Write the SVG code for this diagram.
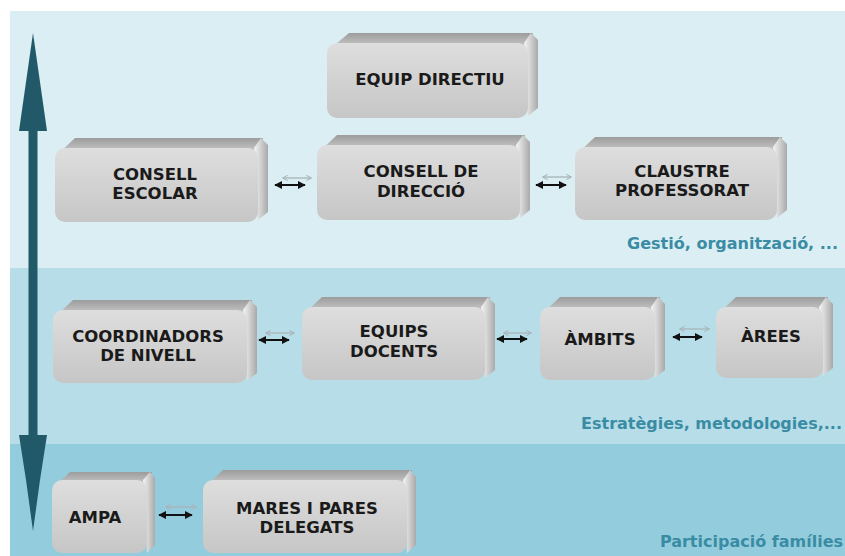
<svg xmlns="http://www.w3.org/2000/svg" width="845" height="556" viewBox="0 0 845 556">
<style>
.lbl{font-family:"DejaVu Sans",Verdana,sans-serif;font-weight:bold;font-size:16.5px;fill:#1a1a1a;text-anchor:middle}
.band{font-family:"DejaVu Sans",Verdana,sans-serif;font-weight:bold;font-size:16px;fill:#3a8ca4;text-anchor:end}
.front{fill:url(#gFront)}
.top{fill:url(#gTop)}
.side{fill:url(#gSide)}
.blk{stroke:#111;stroke-width:2;fill:none;marker-start:url(#aB);marker-end:url(#aB)}
.gry{stroke:#a8b4b8;stroke-width:1.3;fill:none;marker-start:url(#aG);marker-end:url(#aG)}
</style>
<defs>
<linearGradient id="gFront" x1="0" y1="0" x2="0" y2="1"><stop offset="0" stop-color="#dedede"/><stop offset="1" stop-color="#c6c6c6"/></linearGradient>
<linearGradient id="gTop" x1="0" y1="0" x2="0" y2="1"><stop offset="0" stop-color="#9c9c9c"/><stop offset="1" stop-color="#cfcfcf"/></linearGradient>
<linearGradient id="gSide" x1="0" y1="0" x2="1" y2="0"><stop offset="0" stop-color="#f4f4f4"/><stop offset="1" stop-color="#a9a9a9"/></linearGradient>
<marker id="aB" viewBox="0 0 10 10" refX="9" refY="5" markerWidth="4" markerHeight="4" orient="auto-start-reverse"><path d="M0,0 L10,5 L0,10 z" fill="#111"/></marker>
<marker id="aG" viewBox="0 0 10 10" refX="9" refY="5" markerWidth="4" markerHeight="4" orient="auto-start-reverse"><path d="M0,0 L10,5 L0,10" fill="none" stroke="#a8b4b8" stroke-width="2"/></marker>
</defs>
<rect width="845" height="556" fill="#ffffff"/>
<rect x="10" y="11" width="835" height="257" fill="#dbeef3"/>
<rect x="10" y="268" width="835" height="176" fill="#b7dee8"/>
<rect x="10" y="444" width="835" height="112" fill="#93cddd"/>
<text class="band" x="838" y="249">Gestió, organització, ...</text>
<text class="band" x="842" y="429">Estratègies, metodologies,...</text>
<text class="band" x="843" y="547">Participació famílies</text>
<g id="vertical-arrow">
<rect x="28.5" y="128" width="9" height="310" fill="#215968"/>
<polygon points="33,33 47,131 19,131" fill="#215968"/>
<polygon points="19,435 47,435 40,480 33,531 26,480" fill="#215968"/>
</g>
<g id="equip-directiu">
<polygon class="top" points="330,49 349,33 533,33 530,46"/>
<polygon class="side" points="524,43 531,33 538,40 538,108 528,116"/>
<rect class="front" x="327" y="43" width="201" height="75" rx="10"/>
<text class="lbl" x="430" y="85">EQUIP DIRECTIU</text>
</g>
<g id="consell-escolar">
<polygon class="top" points="58,154 75,138 263,138 260,151"/>
<polygon class="side" points="254,148 261,138 268,145 268,212 258,220"/>
<rect class="front" x="55" y="148" width="203" height="74" rx="10"/>
<text class="lbl" x="155" y="180">CONSELL</text>
<text class="lbl" x="155" y="199">ESCOLAR</text>
</g>
<g id="consell-direccio">
<polygon class="top" points="320,151 337,135 525,135 522,148"/>
<polygon class="side" points="516,145 523,135 530,142 530,210 520,218"/>
<rect class="front" x="317" y="145" width="203" height="75" rx="10"/>
<text class="lbl" x="421" y="177">CONSELL DE</text>
<text class="lbl" x="421" y="197">DIRECCIÓ</text>
</g>
<g id="claustre">
<polygon class="top" points="578,153 595,137 782,137 779,150"/>
<polygon class="side" points="773,147 780,137 787,144 787,210 777,218"/>
<rect class="front" x="575" y="147" width="202" height="73" rx="10"/>
<text class="lbl" x="682" y="177">CLAUSTRE</text>
<text class="lbl" x="682" y="196">PROFESSORAT</text>
</g>
<g id="coordinadors">
<polygon class="top" points="56,316 73,300 252,300 249,313"/>
<polygon class="side" points="243,310 250,300 257,307 257,373 247,381"/>
<rect class="front" x="53" y="310" width="194" height="73" rx="10"/>
<text class="lbl" x="148" y="342">COORDINADORS</text>
<text class="lbl" x="148" y="361">DE NIVELL</text>
</g>
<g id="equips-docents">
<polygon class="top" points="305,313 322,297 490,297 487,310"/>
<polygon class="side" points="481,307 488,297 495,304 495,370 485,378"/>
<rect class="front" x="302" y="307" width="183" height="73" rx="10"/>
<text class="lbl" x="394" y="337">EQUIPS</text>
<text class="lbl" x="394" y="357">DOCENTS</text>
</g>
<g id="ambits">
<polygon class="top" points="543,313 560,297 660,297 657,310"/>
<polygon class="side" points="651,307 658,297 665,304 665,370 655,378"/>
<rect class="front" x="540" y="307" width="115" height="73" rx="10"/>
<text class="lbl" x="600" y="345">ÀMBITS</text>
</g>
<g id="arees">
<polygon class="top" points="719,313 736,297 828,297 825,310"/>
<polygon class="side" points="819,307 826,297 833,304 833,368 823,376"/>
<rect class="front" x="716" y="307" width="107" height="71" rx="10"/>
<text class="lbl" x="771" y="342">ÀREES</text>
</g>
<g id="ampa">
<polygon class="top" points="55,486 70,472 152,472 150,484"/>
<polygon class="side" points="143,480 150,472 155,478 155,545 147,553"/>
<rect class="front" x="52" y="480" width="95" height="73" rx="10"/>
<text class="lbl" x="95" y="523">AMPA</text>
</g>
<g id="mares-pares">
<polygon class="top" points="206,486 223,470 412,470 409,483"/>
<polygon class="side" points="403,480 410,470 416,477 416,545 407,553"/>
<rect class="front" x="203" y="480" width="204" height="73" rx="10"/>
<text class="lbl" x="307" y="514">MARES I PARES</text>
<text class="lbl" x="307" y="533">DELEGATS</text>
</g>
<g id="connectors">
<line class="gry" x1="283" y1="178" x2="311" y2="178"/>
<line class="blk" x1="275" y1="185" x2="305" y2="185"/>
<line class="gry" x1="543" y1="177" x2="571" y2="177"/>
<line class="blk" x1="536" y1="185" x2="566" y2="185"/>
<line class="gry" x1="266" y1="333" x2="294" y2="333"/>
<line class="blk" x1="259" y1="340" x2="289" y2="340"/>
<line class="gry" x1="504" y1="333" x2="531" y2="333"/>
<line class="blk" x1="497" y1="339" x2="527" y2="339"/>
<line class="gry" x1="680" y1="329" x2="709" y2="329"/>
<line class="blk" x1="673" y1="337" x2="702" y2="337"/>
<line class="gry" x1="166" y1="507" x2="196" y2="507"/>
<line class="blk" x1="159" y1="515" x2="192" y2="515"/>
</g>
</svg>
